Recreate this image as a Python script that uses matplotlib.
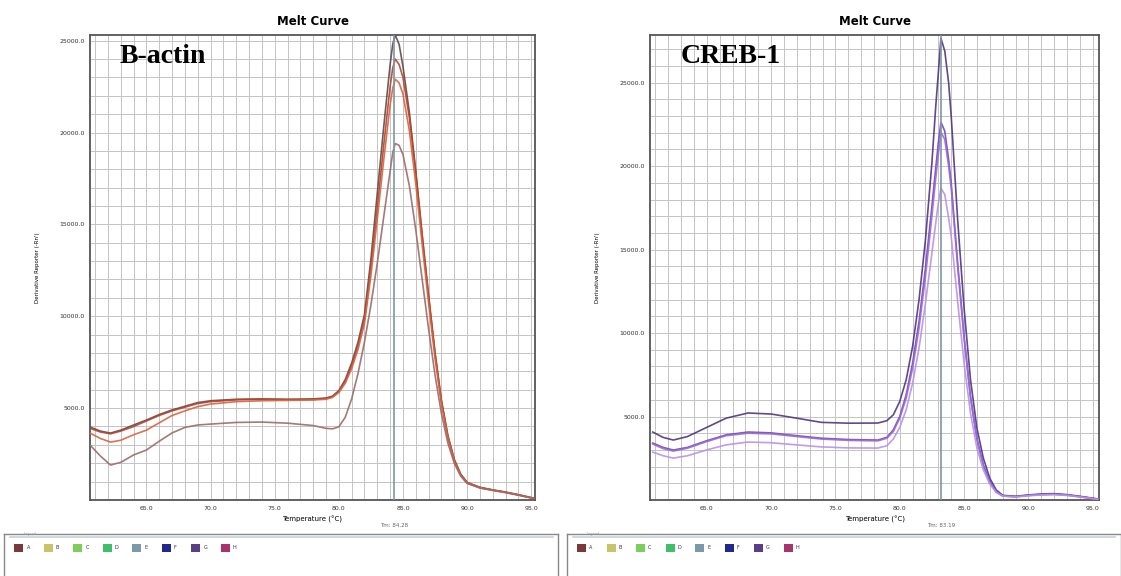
import numpy as np
import matplotlib
matplotlib.use("Agg")
import matplotlib.pyplot as plt
from matplotlib.ticker import MultipleLocator, FixedLocator
from matplotlib.patches import Rectangle

# ---- data ----
temp_left = [60.6, 61.4, 62.2, 63.0, 64.0, 65.0, 66.0, 67.0, 68.0, 69.0, 70.0, 72.0,
             74.0, 76.0, 78.0, 79.0, 79.5, 80.0, 80.5, 81.0, 81.5, 82.0, 82.5, 83.0,
             83.5, 84.0, 84.2, 84.4, 84.7, 85.0, 85.5, 86.0, 86.5, 87.0, 87.5, 88.0,
             88.5, 89.0, 89.5, 90.0, 91.0, 92.0, 93.0, 94.0, 95.2]
bactin_a = [3970, 3750, 3640, 3800, 4080, 4350, 4650, 4900, 5100, 5300, 5400, 5480,
            5500, 5480, 5500, 5550, 5650, 5950, 6550, 7450, 8600, 10100, 13100, 16700,
            20300, 23700, 24800, 25300, 24800, 23600, 21100, 17900, 14400, 11100, 8000, 5400,
            3500, 2200, 1400, 950, 680, 540, 420, 280, 90]
bactin_b = [3900, 3700, 3600, 3750, 4000, 4300, 4600, 4850, 5050, 5250, 5350, 5450,
            5480, 5460, 5470, 5520, 5620, 5900, 6450, 7300, 8400, 9800, 12600, 15900,
            19300, 22500, 23500, 24000, 23700, 23000, 20800, 17800, 14400, 11100, 8000, 5400,
            3500, 2200, 1400, 960, 690, 550, 430, 290, 100]
bactin_c = [3640, 3350, 3150, 3250, 3550, 3800, 4200, 4600, 4850, 5080, 5220, 5350,
            5400, 5420, 5440, 5480, 5580, 5850, 6350, 7150, 8200, 9600, 12200, 15300,
            18500, 21500, 22400, 22900, 22700, 22100, 20100, 17200, 13900, 10700, 7700, 5200,
            3400, 2100, 1350, 920, 660, 530, 410, 270, 80]
bactin_d = [2990, 2400, 1900, 2050, 2450, 2720, 3200, 3650, 3950, 4080, 4130, 4220,
            4240, 4180, 4050, 3900, 3870, 3980, 4500, 5500, 6900, 8600, 10600, 12900,
            15400, 17900, 18900, 19400, 19300, 18800, 17100, 14700, 12000, 9300, 6800, 4700,
            3100, 2000, 1300, 900, 650, 520, 400, 260, 80]

temp_right = [60.8, 61.6, 62.4, 63.5, 65.0, 66.5, 68.2, 70.0, 72.0, 73.9, 76.0, 78.3,
              79.0, 79.5, 80.0, 80.5, 81.0, 81.5, 82.0, 82.5, 82.8, 83.0, 83.2, 83.5,
              83.8, 84.0, 84.5, 85.0, 85.5, 86.0, 86.5, 87.0, 87.5, 88.0, 89.0, 90.0,
              91.0, 92.0, 93.0, 94.0, 95.4]
creb_a = [4070, 3750, 3590, 3800, 4350, 4900, 5210, 5150, 4900, 4650, 4600, 4610,
          4750, 5100, 5900, 7200, 9200, 12000, 15600, 20200, 23600, 25600, 27660, 26900,
          25000, 23000, 16800, 11500, 7200, 4300, 2500, 1300, 600, 280, 220, 300,
          360, 380, 320, 220, 60]
creb_b = [3410, 3150, 2990, 3150, 3550, 3900, 4070, 4020, 3850, 3700, 3620, 3590,
          3750, 4200, 5000, 6300, 8200, 10700, 13900, 17600, 19900, 21400, 22640, 22100,
          20400, 19000, 14200, 9800, 6200, 3700, 2100, 1100, 500, 250, 200, 280,
          330, 350, 300, 200, 50]
creb_c = [3350, 3080, 2930, 3100, 3500, 3850, 4000, 3960, 3800, 3650, 3570, 3540,
          3700, 4100, 4900, 6100, 7900, 10300, 13400, 17000, 19300, 20700, 22040, 21600,
          20000, 18700, 14000, 9700, 6100, 3600, 2000, 1050, 480, 240, 190, 270,
          320, 340, 290, 190, 50]
creb_d = [2870, 2650, 2510, 2650, 3000, 3300, 3470, 3430, 3300, 3180, 3120, 3110,
          3250, 3650, 4350, 5400, 7000, 9100, 11800, 14800, 16600, 17800, 18680, 18300,
          16900, 15800, 11900, 8200, 5200, 3100, 1800, 950, 450, 230, 180, 250,
          300, 320, 270, 180, 40]

x_ticks = [65.0, 70.0, 75.0, 80.0, 85.0, 90.0, 95.0]
y_ticks = [5000.0, 10000.0, 15000.0, 20000.0, 25000.0]
tm_left = 84.28
tm_right = 83.19
legend_keys = ["A", "B", "C", "D", "E", "F", "G", "H"]
legend_colors = ["#7a3a3a", "#c9c46a", "#7ccf5a", "#3fbf6a", "#7a9aa8", "#1f2a8c", "#5a3f86", "#a8336e"]

bactin_colors = ["#5e4a4a", "#b8442c", "#d8643e", "#9a6b6b"]
creb_colors = ["#4f3580", "#7446b8", "#9a6ad8", "#b891e6"]

fig = plt.figure(figsize=(11.21, 5.76), dpi=100)


def melt_panel(rect, temps, curves, colors, ymax, tm, label, xlim):
    ax = fig.add_axes(rect)
    for vals, c in zip(curves, colors):
        ax.plot(temps, vals, color=c, lw=1.2, alpha=0.9, zorder=3)
    ax.set_xlim(*xlim)
    ax.set_ylim(0, ymax)
    ax.xaxis.set_major_locator(FixedLocator(x_ticks))
    ax.yaxis.set_major_locator(FixedLocator(y_ticks))
    ax.xaxis.set_minor_locator(MultipleLocator(1))
    ax.yaxis.set_minor_locator(MultipleLocator(1000))
    ax.set_xticklabels(["%.1f" % v for v in x_ticks])
    ax.set_yticklabels(["%.1f" % v for v in y_ticks])
    ax.grid(which="both", color="#c4c4c4", lw=0.7, zorder=0)
    ax.tick_params(which="both", length=0, labelsize=4.5, colors="#333333", pad=4)
    for s in ax.spines.values():
        s.set_color("#555555")
        s.set_linewidth(1.3)
    ax.axvline(tm, color="#7f97a6", lw=1.2, zorder=4)
    ax.text(tm, -0.05, "Tm: %.2f" % tm, transform=ax.get_xaxis_transform(),
            ha="center", va="top", fontsize=4, color="#666666")
    ax.set_title("Melt Curve", fontsize=8.5, fontweight="bold", pad=7)
    ax.set_xlabel("Temperature (\u00b0C)", fontsize=5, labelpad=4)
    ax.set_ylabel("Derivative Reporter (-Rn')", fontsize=4, labelpad=14)
    ax.text(0.067, 0.955, label, transform=ax.transAxes, family="Liberation Serif",
            fontweight="bold", fontsize=20, va="center", ha="left", zorder=5)
    return ax


melt_panel([0.0803, 0.132, 0.397, 0.807], temp_left,
           [bactin_a, bactin_b, bactin_c, bactin_d], bactin_colors,
           25300, tm_left, "B-actin", (60.6, 95.3))
melt_panel([0.580, 0.132, 0.4005, 0.807], temp_right,
           [creb_a, creb_b, creb_c, creb_d], creb_colors,
           27850, tm_right, "CREB-1", (60.6, 95.5))


def legend_box(rect):
    ax = fig.add_axes(rect)
    ax.set_xlim(0, 1)
    ax.set_ylim(0, 1)
    ax.set_xticks([])
    ax.set_yticks([])
    for s in ax.spines.values():
        s.set_color("#888888")
        s.set_linewidth(1.0)
    ax.plot([0.01, 0.99], [0.93, 0.93], color="#c8d0dc", lw=1.2)
    ax.text(0.035, 0.95, "Legend", fontsize=2.5, color="#999999", va="bottom")
    w = rect[2]
    for i, (k, c) in enumerate(zip(legend_keys, legend_colors)):
        x0 = (10 + 29.5 * i) / (w * 1121)
        ax.add_patch(Rectangle((x0, 0.62), 9 / (w * 1121), 0.18, color=c, lw=0))
        ax.text(x0 + 12 / (w * 1121), 0.71, k, fontsize=3.5, color="#333333", va="center")


legend_box([0.004, -0.01, 0.494, 0.083])
legend_box([0.506, -0.01, 0.494, 0.083])

fig.savefig("out.png", dpi=100, facecolor="white")
